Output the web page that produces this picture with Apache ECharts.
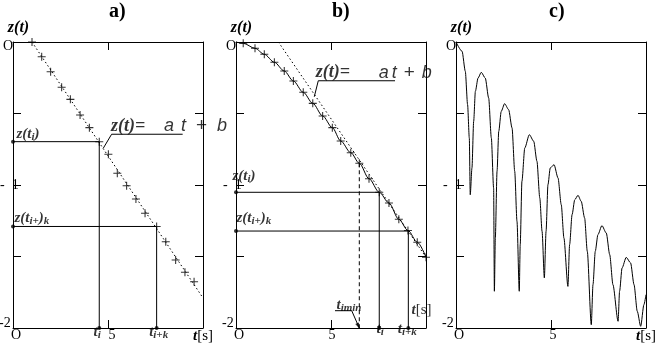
<!DOCTYPE html>
<html><head><meta charset="utf-8">
<script src="https://cdn.jsdelivr.net/npm/echarts@6/dist/echarts.min.js"></script>
<style>html,body{margin:0;padding:0;background:#fff}#c{width:664px;height:347px}</style>
</head><body><div id="c"></div>
<script>
// ---------------- data ----------------
const xTickValues = [0, 5, 10];
const xTickTexts = ['O', '5', 't[s]'];
const yTickValues = [0, -1, -2];
const yTickTexts = ['O', '-1', '-2'];
const panelTitles = ['a)', 'b)', 'c)'];

// panel a
const aFitT = [1.0, 10];
const aFitZ = [0, -1.79];
const aMarkT = [1.0, 1.51, 1.98, 2.56, 3.02, 3.53, 4.02, 4.54, 5.02, 5.49, 5.98, 6.47, 6.95, 7.56, 8.04, 8.56, 9.05, 9.53];
const aMarkZ = [0, -0.103, -0.208, -0.317, -0.401, -0.51, -0.599, -0.697, -0.785, -0.918, -1.005, -1.098, -1.198, -1.29, -1.397, -1.524, -1.61, -1.676];
const aTi = 4.54, aZi = -0.697, aTik = 7.56, aZik = -1.29;
const aLeaderT = [4.75, 5.19, 8.93];
const aLeaderZ = [-0.743, -0.645, -0.645];

// panel b
const bCurveT = [0, 0.38, 1.0, 1.49, 2.02, 2.54, 3.02, 3.54, 4.04, 4.56, 5.07, 5.51, 6.04, 6.49, 7.0, 7.54, 8.05, 8.57, 9.05, 9.54, 10];
const bCurveZ = [0, -0.009, -0.044, -0.086, -0.142, -0.203, -0.273, -0.352, -0.429, -0.517, -0.599, -0.692, -0.774, -0.848, -0.956, -1.051, -1.126, -1.24, -1.318, -1.40, -1.505];
const bFitT = [2.23, 10];
const bFitZ = [0, -1.505];
const bTi = 7.54, bZi = -1.051, bTik = 9.07, bZik = -1.322;
const bTmin = 6.49, bZmin = -0.848;
const bLeaderT = [4.12, 4.33, 8.37];
const bLeaderZ = [-0.383, -0.271, -0.271];
const bMinLeaderT = [5.21, 6.09, 6.49];
const bMinLeaderZ = [-1.879, -1.879, -2];

// panel c
const cCurveT = [0, 0.32, 0.49, 0.61, 0.70, 0.75, 0.84, 0.93, 1.02, 1.16, 1.33, 1.54, 1.72, 1.86, 1.98, 2.02,
  2.07, 2.16, 2.25, 2.38, 2.56, 2.77, 2.95, 3.09, 3.21, 3.33, 3.38, 3.47, 3.62, 3.86, 4.09, 4.26, 4.41, 4.53, 4.65,
  4.74, 4.84, 4.96, 5.16, 5.37, 5.54, 5.68, 5.89, 5.98, 6.11, 6.25, 6.42, 6.59, 6.77, 6.91, 7.12,
  7.21, 7.33, 7.47, 7.68, 7.91, 8.09, 8.26, 8.53, 8.61, 8.74, 8.96, 9.19, 9.37, 9.54, 9.72, 9.89, 10];
const cCurveZ = [0, -0.065, -0.205, -0.438, -0.671, -1.068, -0.881, -0.555, -0.345, -0.252, -0.212, -0.252, -0.392, -0.671, -1.021, -1.743,
  -1.37, -0.904, -0.625, -0.485, -0.431, -0.473, -0.601, -0.904, -1.254, -1.743, -1.417, -0.974, -0.741, -0.648, -0.694, -0.834, -1.091, -1.324, -1.65,
  -1.324, -0.998, -0.881, -0.858, -0.951, -1.138, -1.371, -1.709, -1.417, -1.207, -1.103, -1.072, -1.114, -1.231, -1.464, -1.977,
  -1.697, -1.464, -1.347, -1.284, -1.336, -1.487, -1.697, -1.953, -1.743, -1.58, -1.506, -1.545, -1.697, -1.883, -1.988, -1.837, -1.767];

// ---------------- layout / style ----------------
const serif = '"Liberation Serif", "DejaVu Serif", serif';
const sans = '"Liberation Sans", "DejaVu Sans", sans-serif';
const gridLefts = [13, 236, 456];
const titleLefts = [104, 327, 544];
const fivePad = [8, 2, 4];
const plusPath = 'path://M3.9,0H5.1V3.9H9V5.1H5.1V9H3.9V5.1H0V3.9H3.9Z';
const zip = (ts, zs) => ts.map((t, i) => [t, zs[i]]);

const richBase = {
  it: {fontFamily: serif, fontStyle: 'italic', fontWeight: 'bold', fontSize: 15, color: '#000', lineHeight: 17},
  sub: {fontFamily: serif, fontStyle: 'italic', fontWeight: 'bold', fontSize: 11, color: '#000', lineHeight: 11, verticalAlign: 'bottom'},
  rm: {fontFamily: serif, fontSize: 15, color: '#000', lineHeight: 17}
};
function eqRich(w) {
  return Object.assign({}, richBase, {
    e: {fontFamily: serif, fontStyle: 'italic', fontWeight: 'bold', fontSize: 18, color: '#000', width: w[0]},
    a: {fontFamily: sans, fontStyle: 'italic', fontSize: 18, color: '#000', width: w[1]},
    t: {fontFamily: sans, fontStyle: 'italic', fontSize: 18, color: '#000', width: w[2]},
    p: {fontFamily: sans, fontSize: 19, color: '#000', width: w[3]},
    b: {fontFamily: sans, fontStyle: 'italic', fontSize: 18, color: '#000'}
  });
}
const eqFmt = '{e|z(t)=}{a|a}{t|t}{p|+}{b|b}';

function xLabelFmt(i) {
  return function (v) {
    const k = xTickValues.indexOf(v);
    if (k < 0) return '';
    if (i === 1 && k === 2) return '';
    const s = xTickTexts[k];
    if (k === 0) return '{o|' + s + '}';
    if (k === 1) return '{f|' + s + '}';
    return '{it|' + s.charAt(0) + '}{rm|' + s.slice(1) + '}';
  };
}
function yLabelFmt(v) {
  const k = yTickValues.indexOf(v);
  if (k < 0) return '';
  const s = yTickTexts[k];
  if (k === 0) return '{o|' + s + '}';
  if (k === 1) return '{m|' + s.replace('-', '-  ') + '}';
  return '{t|' + s + '}';
}

const axisLine = {show: true, onZero: false, lineStyle: {color: '#000', width: 1}};
const axisTick = {show: true, inside: true, length: 8, lineStyle: {color: '#000', width: 1}};

const grids = [], xAxes = [], yAxes = [];
for (let i = 0; i < 3; i++) {
  grids.push({left: gridLefts[i], top: 42, width: 190, height: 286, outerBoundsMode: 'none', containLabel: false});
  xAxes.push({
    type: 'value', gridIndex: i, position: 'bottom', min: 0, max: 10, interval: 5,
    axisLine, axisTick, splitLine: {show: false},
    axisLabel: {
      show: true, margin: 0, showMinLabel: true, showMaxLabel: true, hideOverlap: false,
      fontFamily: serif, fontSize: 14, color: '#000', formatter: xLabelFmt(i),
      rich: Object.assign({}, richBase, {
        o: {fontFamily: serif, fontSize: 14, color: '#000', padding: [0, 0, 0, 6]},
        f: {fontFamily: serif, fontSize: 14, color: '#000', padding: [0, 0, 0, fivePad[i]]}
      })
    }
  });
  yAxes.push({
    type: 'value', gridIndex: i, position: 'left', min: -2, max: 0, interval: 0.5,
    axisLine, axisTick, splitLine: {show: false},
    name: 'z(t)', nameLocation: 'end', nameGap: 6,
    nameTextStyle: {fontFamily: serif, fontStyle: 'italic', fontWeight: 'bold', fontSize: 16, color: '#000',
      align: 'center', verticalAlign: 'bottom', padding: [0, 0, 0, 11]},
    axisLabel: {
      show: true, margin: 20, align: 'left', showMinLabel: true, showMaxLabel: true, hideOverlap: false,
      fontFamily: serif, fontSize: 14, color: '#000', formatter: yLabelFmt,
      rich: {
        o: {fontFamily: serif, fontSize: 14, color: '#000', padding: [8, 0, 0, 10]},
        m: {fontFamily: serif, fontSize: 14, color: '#000', padding: [0, 0, 0, 7]},
        t: {fontFamily: serif, fontSize: 14, color: '#000', padding: [0, 0, 10, 6]}
      }
    }
  });
}
for (let i = 0; i < 3; i++) {
  xAxes.push({type: 'value', gridIndex: i, position: 'top', min: 0, max: 10, interval: 5,
    axisLine, axisTick, splitLine: {show: false}, axisLabel: {show: false}});
  yAxes.push({type: 'value', gridIndex: i, position: 'right', min: -2, max: 0, interval: 0.5,
    axisLine, axisTick, splitLine: {show: false}, axisLabel: {show: false}});
}

function lineS(i, data, type, smooth) {
  return {type: 'line', xAxisIndex: i, yAxisIndex: i, data, symbol: 'none', showSymbol: false,
    smooth: smooth || false, smoothMonotone: smooth ? 'x' : undefined,
    silent: true, z: 3, lineStyle: {color: '#000', width: 1, type: type || 'solid'}};
}
function markS(i, data) {
  return {type: 'scatter', xAxisIndex: i, yAxisIndex: i, data, symbol: plusPath, symbolSize: 8,
    silent: true, z: 4, itemStyle: {color: '#000'}};
}
function dotS(i, data) {
  return {type: 'scatter', xAxisIndex: i, yAxisIndex: i, data, symbol: 'circle', symbolSize: 4,
    silent: true, z: 5, itemStyle: {color: '#000'}};
}
function textS(i, items) {
  return {type: 'scatter', xAxisIndex: i, yAxisIndex: i, symbolSize: 1, silent: true, z: 6,
    itemStyle: {color: 'rgba(0,0,0,0)'},
    data: items.map(it => ({value: it.at, label: {show: true, formatter: it.fmt, position: it.pos,
      align: it.align, verticalAlign: it.va, rich: it.rich || richBase, color: '#000'}}))};
}

const series = [
  // ---- panel a ----
  lineS(0, zip(aFitT, aFitZ), [1.5, 2.5]),
  markS(0, zip(aMarkT, aMarkZ)),
  lineS(0, [[0, aZi], [aTi, aZi], [aTi, -2]]),
  lineS(0, [[0, aZik], [aTik, aZik], [aTik, -2]]),
  dotS(0, [[0, aZi], [aTi, -2], [0, aZik], [aTik, -2]]),
  lineS(0, zip(aLeaderT, aLeaderZ)),
  textS(0, [
    {at: [0, aZi], fmt: '{it|z(t}{sub|i}{it|)}', pos: [4, 1], align: 'left', va: 'bottom'},
    {at: [0, aZik], fmt: '{it|z(t}{sub|i+}{it|)}{sub|k}', pos: [2, 1], align: 'left', va: 'bottom'},
    {at: [aTi, -2], fmt: '{it|t}{sub|i}', pos: [2, -4], align: 'right', va: 'top'},
    {at: [aTik, -2], fmt: '{it|t}{sub|i+k}', pos: [-7, -4], align: 'left', va: 'top'},
    {at: [aLeaderT[1], aLeaderZ[1]], fmt: eqFmt, pos: [0, 2], align: 'left', va: 'bottom', rich: eqRich([53, 17, 15, 21])}
  ]),
  // ---- panel b ----
  lineS(1, zip(bCurveT, bCurveZ), 'solid', 0.3),
  markS(1, zip(bCurveT, bCurveZ).slice(1)),
  lineS(1, zip(bFitT, bFitZ), [1.5, 2.5]),
  lineS(1, [[0, bZi], [bTi, bZi], [bTi, -2]]),
  lineS(1, [[0, bZik], [bTik, bZik], [bTik, -2]]),
  dotS(1, [[0, bZi], [bTi, -2], [0, bZik], [bTik, -2]]),
  lineS(1, [[bTmin, bZmin], [bTmin, -2]], [4, 3]),
  lineS(1, zip(bLeaderT, bLeaderZ)),
  lineS(1, zip(bMinLeaderT, bMinLeaderZ)),
  {type: 'scatter', xAxisIndex: 1, yAxisIndex: 1, data: [[bMinLeaderT[2], bMinLeaderZ[2]]], symbol: 'triangle',
    symbolSize: [4, 6], symbolRotate: 204, symbolOffset: [-1, -2], silent: true, z: 5, itemStyle: {color: '#000'}},
  textS(1, [
    {at: [0, bZi], fmt: '{it|z(t}{sub|i}{it|)}', pos: [-3, -7], align: 'left', va: 'bottom'},
    {at: [0, bZik], fmt: '{it|z(t}{sub|i+}{it|)}{sub|k}', pos: [1, -4], align: 'left', va: 'bottom'},
    {at: [bTi, -2], fmt: '{it|t}{sub|i}', pos: [5, -7], align: 'right', va: 'top'},
    {at: [bTik, -2], fmt: '{it|t}{sub|i+k}', pos: [-10, -7], align: 'left', va: 'top'},
    {at: [10, -2], fmt: '{it|t}{rm|[s]}', pos: [-14, -26], align: 'left', va: 'top'},
    {at: [bMinLeaderT[0], bMinLeaderZ[0]], fmt: '{it|t}{sub|imin}', pos: [2, 3], align: 'left', va: 'bottom'},
    {at: [bLeaderT[1], bLeaderZ[1]], fmt: eqFmt, pos: [-2, 2], align: 'left', va: 'bottom', rich: eqRich([63, 13, 12, 18])}
  ]),
  // ---- panel c ----
  lineS(2, zip(cCurveT, cCurveZ), 'solid', 0.25)
];

const chart = echarts.init(document.getElementById('c'), null, {renderer: 'canvas'});
chart.setOption({
  animation: false,
  backgroundColor: '#fff',
  title: panelTitles.map((t, i) => ({text: t, left: titleLefts[i], top: -3,
    textStyle: {fontFamily: serif, fontWeight: 'bold', fontSize: 20, color: '#000'}})),
  grid: grids,
  xAxis: xAxes,
  yAxis: yAxes,
  series
});
</script></body></html>
